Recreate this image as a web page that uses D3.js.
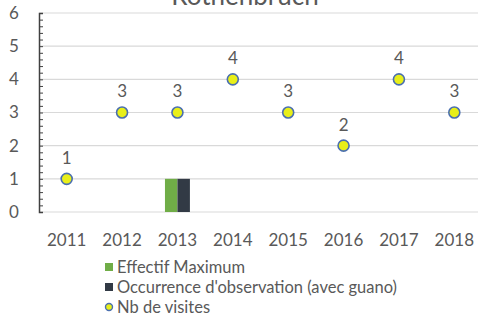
<!DOCTYPE html>
<html>
<head>
<meta charset="utf-8">
<script src="https://cdn.jsdelivr.net/npm/d3@7"></script>
<style>
  html, body { margin: 0; padding: 0; background: #fff; }
  svg { display: block; font-family: Lato, "Open Sans", sans-serif; }
</style>
</head>
<body>
<svg id="chart" width="478" height="326"></svg>
<script>
// Site: Rothenbruch — yearly counts
const years = ["2011", "2012", "2013", "2014", "2015", "2016", "2017", "2018"];
const effectifMax = [0, 0, 1, 0, 0, 0, 0, 0];
const occurrence = [0, 0, 1, 0, 0, 0, 0, 0];
const nbVisites = [1, 3, 3, 4, 3, 2, 4, 3];
const yTicks = [0, 1, 2, 3, 4, 5, 6];
const legendLabels = ["Effectif Maximum", "Occurrence d'observation (avec guano)", "Nb de visites"];

const svg = d3.select("#chart");
const W = 478, H = 326;
const m = { top: 13, right: -4, bottom: 114, left: 39 };

const x = d3.scaleBand().domain(years).range([m.left, W - m.right]).padding(0);
const y = d3.scaleLinear().domain([0, 6]).range([H - m.bottom, m.top]);
const xSub = d3.scaleBand().domain(["eff", "occ"]).range([0, x.bandwidth()])
  .paddingInner(0).paddingOuter(1.22);

const textGrey = "#595959";

// Title (runs off the top edge)
svg.append("text")
  .attr("x", 245).attr("y", 5)
  .attr("text-anchor", "middle")
  .attr("font-size", 26)
  .attr("fill", textGrey)
  .text("Rothenbruch");

// Horizontal gridlines
svg.append("g")
  .selectAll("line")
  .data(yTicks)
  .join("line")
  .attr("x1", m.left).attr("x2", W)
  .attr("y1", d => y(d)).attr("y2", d => y(d))
  .attr("stroke", "#d9d9d9").attr("stroke-width", 1.2);

// Y axis with minor ticks pointing inward
const yAxis = svg.append("g")
  .attr("transform", `translate(${m.left},0)`)
  .call(d3.axisRight(y).ticks(30).tickSize(4).tickFormat(""));
yAxis.select(".domain").attr("stroke", "#404040").attr("stroke-width", 1.5);
yAxis.selectAll(".tick line").attr("stroke", "#404040").attr("stroke-width", 1);

// Y tick labels
svg.append("g")
  .selectAll("text")
  .data(yTicks)
  .join("text")
  .attr("x", 14).attr("y", d => y(d))
  .attr("dy", "0.35em")
  .attr("text-anchor", "middle")
  .attr("font-size", 17)
  .attr("fill", textGrey)
  .text(d => d);

// X labels
svg.append("g")
  .selectAll("text")
  .data(years)
  .join("text")
  .attr("x", d => x(d) + x.bandwidth() / 2)
  .attr("y", 240).attr("dy", "0.35em")
  .attr("text-anchor", "middle")
  .attr("font-size", 17)
  .attr("fill", textGrey)
  .text(d => d);

// Bars
const barColors = { eff: "#70ad47", occ: "#323a45" };
const barRows = years.map((yr, i) => [
  { yr, key: "eff", v: effectifMax[i] },
  { yr, key: "occ", v: occurrence[i] }
]).flat().filter(d => d.v > 0);
svg.append("g")
  .selectAll("rect")
  .data(barRows)
  .join("rect")
  .attr("x", d => x(d.yr) + xSub(d.key))
  .attr("width", xSub.bandwidth())
  .attr("y", d => y(d.v))
  .attr("height", d => y(0) - y(d.v))
  .attr("fill", d => barColors[d.key]);

// Visit markers
svg.append("g")
  .selectAll("circle")
  .data(years.map((yr, i) => ({ yr, v: nbVisites[i] })))
  .join("circle")
  .attr("cx", d => x(d.yr) + x.bandwidth() / 2)
  .attr("cy", d => y(d.v))
  .attr("r", 5.5)
  .attr("fill", "#e8ef1a")
  .attr("stroke", "#4a6fb0")
  .attr("stroke-width", 1.6);

// Value labels
svg.append("g")
  .selectAll("text")
  .data(years.map((yr, i) => ({ yr, v: nbVisites[i] })))
  .join("text")
  .attr("x", d => x(d.yr) + x.bandwidth() / 2)
  .attr("y", d => y(d.v) - 21).attr("dy", "0.35em")
  .attr("text-anchor", "middle")
  .attr("font-size", 17)
  .attr("fill", textGrey)
  .text(d => d.v);

// Legend
const lg = svg.append("g").attr("transform", "translate(105,267)");
legendLabels.forEach((lab, i) => {
  const row = lg.append("g").attr("transform", `translate(0,${i * 20})`);
  if (i < 2) {
    row.append("rect").attr("x", 0).attr("y", -4).attr("width", 8).attr("height", 8)
      .attr("fill", i === 0 ? barColors.eff : barColors.occ);
  } else {
    row.append("circle").attr("cx", 4).attr("cy", 0).attr("r", 3.5)
      .attr("fill", "#e8ef1a").attr("stroke", "#4a6fb0").attr("stroke-width", 1.4);
  }
  row.append("text").attr("x", 12).attr("y", 0).attr("dy", "0.35em")
    .attr("font-size", 16.5).attr("fill", textGrey).text(lab);
});
</script>
</body>
</html>
